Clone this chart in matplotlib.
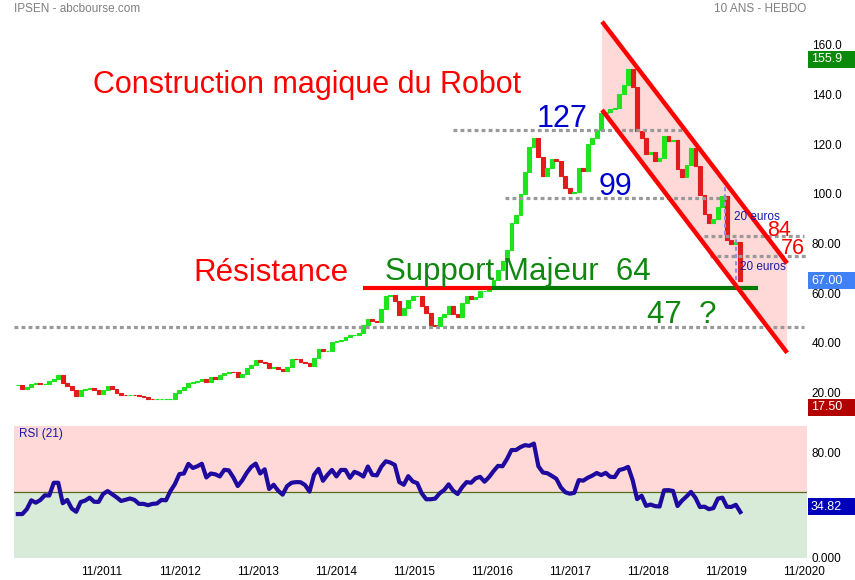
import matplotlib
matplotlib.use('Agg')
import matplotlib.pyplot as plt
import matplotlib.dates as mdates
from matplotlib.patches import Rectangle, Polygon
import numpy as np
import pandas as pd

plt.rcParams['font.family'] = ['Liberation Sans', 'DejaVu Sans']

# données (une bougie toutes les 3 semaines)
dates = pd.date_range('2010-10-04', periods=162, freq='21D')
closes = [
    22.9, 21.5, 22.0, 23.4, 23.6, 23.2, 23.5, 24.4, 25.2, 27.0,
    23.6, 22.7, 20.9, 18.6, 20.9, 21.3, 21.8, 21.0, 19.3, 20.9,
    22.5, 21.3, 19.7, 19.0, 18.9, 18.9, 18.7, 18.4, 17.9, 17.4,
    17.1, 17.3, 17.3, 17.3, 17.4, 19.6, 20.8, 22.0, 23.6, 24.2,
    24.4, 25.5, 24.3, 26.1, 25.4, 26.8, 27.9, 28.3, 28.2, 26.0,
    27.5, 29.8, 31.1, 32.9, 32.2, 31.7, 29.8, 30.2, 29.4, 28.6,
    30.3, 33.3, 33.2, 32.1, 31.8, 30.6, 33.7, 37.6, 36.6, 36.6,
    40.2, 40.6, 41.2, 42.4, 43.2, 43.2, 43.7, 47.0, 49.7, 48.9,
    48.2, 53.4, 58.8, 59.2, 56.8, 51.2, 54.0, 57.1, 58.7, 58.8,
    54.9, 51.8, 47.3, 46.8, 50.5, 51.7, 54.7, 51.7, 50.4, 55.9,
    58.6, 57.7, 58.3, 60.8, 60.9, 61.7, 65.1, 69.4, 73.0, 77.4,
    88.3, 91.4, 99.8, 108.9, 119.0, 122.6, 114.8, 107.0, 110.5, 114.0,
    113.3, 107.2, 102.3, 100.2, 100.8, 110.5, 109.0, 119.9, 122.7, 125.9,
    132.5, 132.9, 134.0, 134.5, 140.3, 144.0, 150.3, 143.1, 125.3, 122.3,
    116.2, 117.0, 113.2, 114.5, 123.3, 121.1, 121.7, 110.0, 106.9, 111.5,
    118.3, 111.2, 99.4, 92.0, 88.3, 89.8, 94.5, 99.3, 81.5, 79.6,
    80.5, 65.0,
]
rsi = [
    33.3, 33.3, 37.0, 43.7, 41.9, 43.9, 47.5, 47.3, 57.0, 57.0,
    41.5, 44.0, 37.5, 35.0, 42.4, 43.5, 45.7, 42.6, 42.5, 48.5,
    50.7, 48.4, 46.0, 43.2, 44.1, 45.1, 44.0, 41.0, 41.0, 40.0,
    41.0, 41.3, 44.0, 43.7, 50.7, 56.0, 63.6, 64.0, 71.3, 68.2,
    69.5, 71.4, 61.0, 64.0, 63.4, 61.8, 66.8, 66.4, 61.2, 54.5,
    58.8, 64.5, 69.0, 71.5, 64.0, 67.2, 52.3, 55.5, 51.0, 48.0,
    54.5, 57.0, 57.5, 57.4, 55.3, 50.3, 63.0, 67.5, 58.5, 63.0,
    66.7, 61.8, 66.7, 66.7, 60.7, 65.3, 63.9, 61.7, 69.3, 63.0,
    62.6, 69.2, 73.3, 72.3, 70.5, 57.5, 55.5, 62.0, 58.0, 56.7,
    49.0, 44.5, 44.5, 45.0, 49.0, 51.5, 55.8, 51.0, 48.5, 53.6,
    57.5, 57.0, 60.3, 61.5, 57.8, 61.3, 65.8, 69.8, 69.5, 75.0,
    81.8, 81.8, 84.0, 85.5, 85.0, 86.7, 69.5, 64.8, 64.2, 62.2,
    60.0, 53.5, 49.8, 48.7, 49.4, 59.0, 58.6, 60.8, 62.4, 64.4,
    62.8, 64.5, 61.5, 61.3, 66.6, 67.5, 69.0, 59.0, 44.6, 47.2,
    39.5, 40.5, 39.3, 39.0, 51.3, 51.4, 50.8, 39.4, 43.5, 46.6,
    50.1, 45.6, 38.6, 38.9, 37.0, 37.8, 45.0, 45.7, 38.8, 38.7,
    40.3, 34.8,
]

# niveaux tracés en pointillés
levels = [125.7, 98.2, 83.0, 74.8, 46.3]
level_start = ['2016-05-03', '2017-01-02', '2019-07-18', '2019-08-18', '2010-09-16']
level_end = ['2019-04-15', '2019-11-06', '2020-10-31', '2020-11-24', '2020-10-31']

resistance = 62.0
resistance_dates = ['2015-03-09', '2016-11-01']
support = 62.0
support_dates = ['2016-11-01', '2020-03-27']

channel_dates = ['2018-03-30', '2020-08-12']
channel_top = [169.4, 72.0]
channel_bottom = [133.8, 35.9]

price_ticks = [20, 40, 60, 80, 100, 120, 140, 160]
price_labels = ['20.00', '40.00', '60.00', '80.00', '100.0', '120.0', '140.0', '160.0']
year_ticks = ['2011-11-01', '2012-11-01', '2013-11-01', '2014-11-01', '2015-11-01',
              '2016-11-01', '2017-11-01', '2018-11-01', '2019-11-01', '2020-11-01']
year_labels = ['11/2011', '11/2012', '11/2013', '11/2014', '11/2015',
               '11/2016', '11/2017', '11/2018', '11/2019', '11/2020']

d = mdates.datestr2num
W, H = 855, 580

fig = plt.figure(figsize=(8.55, 5.8), dpi=100)
ax = fig.add_axes([14 / W, 1 - 420 / H, 793 / W, 408 / H])
ax2 = fig.add_axes([14 / W, 1 - 558 / H, 793 / W, 132 / H])

x = mdates.date2num(dates)
c = np.array(closes)
o = np.array([closes[0]] + closes[:-1])
cols = np.where(c >= o, '#1ee41e', '#e21b1b')

# canal baissier
d0, d1 = d(channel_dates[0]), d(channel_dates[1])
ax.add_patch(Polygon([(d0, channel_top[0]), (d1, channel_top[1]),
                      (d1, channel_bottom[1]), (d0, channel_bottom[0])],
                     facecolor='#ffd8d8', edgecolor='none', zorder=1))

# bougies
ax.bar(x, c - o, bottom=o, width=18, color=cols, edgecolor=cols, linewidth=0.8, zorder=3)

# niveaux
for lv, s, e in zip(levels, level_start, level_end):
    ax.hlines(lv, d(s), d(e), colors='#999999', linestyles=(0, (1.2, 1.0)), linewidth=2.3, zorder=4)

ax.hlines(resistance, d(resistance_dates[0]), d(resistance_dates[1]), colors='#ff0000', linewidth=3, zorder=5)
ax.hlines(support, d(support_dates[0]), d(support_dates[1]), colors='#007a00', linewidth=3, zorder=5)

ax.plot([d0, d1], channel_top, color='#ff0000', lw=3.2, zorder=5, solid_capstyle='butt')
ax.plot([d0, d1], channel_bottom, color='#ff0000', lw=3.2, zorder=5, solid_capstyle='butt')

ax.vlines(d('2019-10-28'), 83.4, 102.9, colors='#9a90e0', linestyles=(0, (2, 1.5)), lw=1.5, zorder=5)
ax.vlines(d('2019-12-17'), 65.2, 82.7, colors='#9a90e0', linestyles=(0, (2, 1.5)), lw=1.5, zorder=5)

# textes
ax.text(d('2011-09-20'), 140.5, 'Construction magique du Robot', color='#ff0000', fontsize=22, va='baseline', zorder=6)
ax.text(d('2017-05-30'), 127.1, '127', color='#0000cc', fontsize=22, va='baseline', zorder=6)
ax.text(d('2018-03-14'), 99.5, '99', color='#0000cc', fontsize=22, va='baseline', zorder=6)
ax.text(d('2013-01-02'), 64.8, 'Résistance', color='#ff0000', fontsize=22.5, va='baseline', zorder=6)
ax.text(d('2015-06-19'), 65.2, 'Support Majeur  64', color='#108810', fontsize=22.5, va='baseline', zorder=6)
ax.text(d('2018-10-27'), 47.8, '47  ?', color='#108810', fontsize=22.5, va='baseline', zorder=6)
ax.text(d('2020-05-11'), 82.9, '84', color='#ff0000', fontsize=15.5, va='baseline', zorder=6)
ax.text(d('2020-07-12'), 75.8, '76', color='#ff0000', fontsize=15.5, va='baseline', zorder=6)
ax.text(d('2019-12-06'), 90.8, '20 euros', color='#1a1aa8', fontsize=8.5, va='center', zorder=6)
ax.text(d('2020-01-06'), 70.6, '20 euros', color='#1a1aa8', fontsize=8.5, va='center', zorder=6)

xlim = (d('2010-09-16'), d('2020-11-13'))
ax.set_xlim(xlim)
ax.set_ylim(8.8, 173.3)
ax.yaxis.tick_right()
ax.set_yticks(price_ticks, price_labels)
ax.tick_params(axis='y', length=0, pad=3.5, labelsize=8.5)
ax.tick_params(axis='x', bottom=False, labelbottom=False)
for sp in ax.spines.values():
    sp.set_visible(False)

# RSI
ax2.axhspan(50, 100, color='#ffd8d8', zorder=0)
ax2.axhspan(0, 50, color='#d8ead8', zorder=0)
ax2.axhline(50, color='#5b6b1c', lw=0.9, zorder=1)
ax2.plot(x, rsi, color='#1e0a9e', lw=3, zorder=2, solid_joinstyle='round')
ax2.set_xlim(xlim)
ax2.set_ylim(0, 100)
ax2.yaxis.tick_right()
ax2.set_yticks([0, 80], ['0.000', '80.00'])
ax2.set_xticks([d(t) for t in year_ticks], year_labels)
ax2.tick_params(length=0, labelsize=8.5)
ax2.tick_params(axis='x', pad=6)
ax2.tick_params(axis='y', pad=3.5)
for sp in ax2.spines.values():
    sp.set_visible(False)

fig.text(19 / W, 1 - 434.5 / H, 'RSI (21)', color='#1515aa', fontsize=8.5, va='center')
fig.text(14 / W, 1 - 8.5 / H, 'IPSEN - abcbourse.com', color='#808080', fontsize=8.5, va='center')
fig.text(806 / W, 1 - 8.5 / H, '10 ANS - HEBDO', color='#808080', fontsize=8.5, va='center', ha='right')


def value_box(ypx, text, color):
    fig.patches.append(Rectangle((808 / W, 1 - (ypx + 8.5) / H), 47 / W, 17 / H,
                                 transform=fig.transFigure, facecolor=color,
                                 edgecolor='none', figure=fig))
    fig.text(811 / W, 1 - ypx / H, text, color='white', fontsize=9, va='center', ha='left')


value_box(59.5, '155.9', '#0a8a0a')
value_box(280.5, '67.00', '#4080f8')
value_box(407, '17.50', '#b30000')
value_box(506.5, '34.82', '#0000bb')

fig.savefig('out.png', dpi=100)
